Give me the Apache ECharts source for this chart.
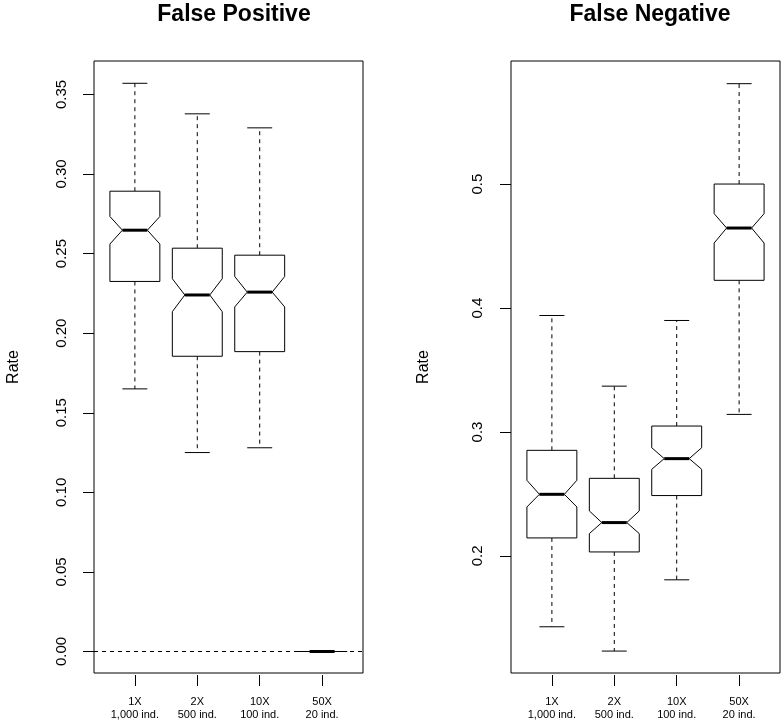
<!DOCTYPE html>
<html><head><meta charset="utf-8">
<script src="https://cdn.jsdelivr.net/npm/echarts@6/dist/echarts.min.js"></script>
<style>html,body{margin:0;padding:0;background:#fff}#c{width:784px;height:723px}</style>
</head><body><div id="c"></div>
<script>
// Categories and box positions
const categories = ['1X\n1,000 ind.', '2X\n500 ind.', '10X\n100 ind.', '50X\n20 ind.'];
const positions = [1, 2, 3, 4];

// False Positive panel
const fpLowerWhisker = [0.165, 0.125, 0.128, 0];
const fpQ1           = [0.2325, 0.1855, 0.1884, 0];
const fpNotchLow     = [0.256, 0.2135, 0.2165, 0];
const fpMedian       = [0.2647, 0.224, 0.2258, 0];
const fpNotchHigh    = [0.2733, 0.2342, 0.2356, 0];
const fpQ3           = [0.2892, 0.2534, 0.249, 0];
const fpUpperWhisker = [0.357, 0.3378, 0.329, 0];
const fpTicks = [0, 0.05, 0.10, 0.15, 0.20, 0.25, 0.30, 0.35];
const fpRefLine = 0;

// False Negative panel
const fnLowerWhisker = [0.1428, 0.1232, 0.1807, 0.3142];
const fnQ1           = [0.2145, 0.2032, 0.2487, 0.4224];
const fnNotchLow     = [0.2395, 0.218, 0.2699, 0.4525];
const fnMedian       = [0.2497, 0.2269, 0.2785, 0.4646];
const fnNotchHigh    = [0.261, 0.2363, 0.2873, 0.4762];
const fnQ3           = [0.2852, 0.2626, 0.3048, 0.5001];
const fnUpperWhisker = [0.394, 0.337, 0.39, 0.5811];
const fnTicks = [0.2, 0.3, 0.4, 0.5];

function rows(lw, q1, nl, md, nh, q3, uw) {
  return positions.map((p, i) => [p, lw[i], q1[i], nl[i], md[i], nh[i], q3[i], uw[i]]);
}

function renderBox(params, api) {
  const x = api.value(0);
  const lw = api.value(1), q1 = api.value(2), nl = api.value(3), md = api.value(4),
        nh = api.value(5), q3 = api.value(6), uw = api.value(7);
  const hw = 0.4, nw = 0.2, sw = 0.2;
  const P = (dx, v) => api.coord([x + dx, v]);
  const poly = [P(-hw,q1),P(-hw,nl),P(-nw,md),P(-hw,nh),P(-hw,q3),P(hw,q3),P(hw,nh),P(nw,md),P(hw,nl),P(hw,q1)];
  const line = (a, b, style) => ({type:'line', shape:{x1:a[0],y1:a[1],x2:b[0],y2:b[1]}, style});
  const solid = {stroke:'#000', lineWidth:1};
  const dashed = {stroke:'#000', lineWidth:1, lineDash:[4,4]};
  return {type:'group', children:[
    line(P(0,q3), P(0,uw), dashed),
    line(P(0,q1), P(0,lw), dashed),
    line(P(-sw,uw), P(sw,uw), solid),
    line(P(-sw,lw), P(sw,lw), solid),
    {type:'polygon', shape:{points:poly}, style:{fill:'#fff', stroke:'#000', lineWidth:1}},
    line(P(-nw,md), P(nw,md), {stroke:'#000', lineWidth:3})
  ]};
}

const FONT = 'Liberation Sans, Arial, Helvetica, sans-serif';

function xAxis(gi) {
  return {
    gridIndex: gi, type: 'value', min: 0.345, max: 4.655, offset: 2, position: 'bottom',
    axisLine: {show:false, onZero:false}, splitLine: {show:false},
    axisTick: {show:true, length:11, customValues: positions, lineStyle:{color:'#000', width:1}},
    axisLabel: {customValues: positions, formatter: v => categories[Math.round(v) - 1],
      fontSize: 11, lineHeight: 13, color:'#000', fontFamily: FONT, margin: 20}
  };
}

function yAxis(gi, min, max, ticks, dec, margin, nameGap) {
  return {
    gridIndex: gi, type: 'value', min, max,
    axisLine: {show:false, onZero:false}, splitLine: {show:false},
    axisTick: {show:true, length:11, customValues: ticks, lineStyle:{color:'#000', width:1}},
    axisLabel: {customValues: ticks, formatter: v => v.toFixed(dec), rotate: 90, margin,
      fontSize: 15, color:'#000', fontFamily: FONT},
    name: 'Rate', nameLocation: 'middle', nameGap,
    nameTextStyle: {fontSize: 16, color:'#000', fontFamily: FONT}
  };
}

const chart = echarts.init(document.getElementById('c'), null, {renderer:'canvas'});
chart.setOption({
  animation: false,
  backgroundColor: '#fff',
  title: [
    {text:'False Positive', left: 229, top: -2, textAlign:'center',
     textStyle:{fontSize:23, fontWeight:'bold', color:'#000', fontFamily: FONT}},
    {text:'False Negative', left: 645, top: -2, textAlign:'center',
     textStyle:{fontSize:23, fontWeight:'bold', color:'#000', fontFamily: FONT}}
  ],
  grid: [
    {left:94, top:61, width:269, height:612, show:true, borderColor:'#000', borderWidth:1, containLabel:false},
    {left:511, top:61, width:269, height:612, show:true, borderColor:'#000', borderWidth:1, containLabel:false}
  ],
  xAxis: [xAxis(0), xAxis(1)],
  yAxis: [
    yAxis(0, -0.0135, 0.371, fpTicks, 2, 25, 72),
    yAxis(1, 0.1055, 0.5994, fnTicks, 1, 26, 79)
  ],
  series: [
    {type:'custom', name:'False Positive', xAxisIndex:0, yAxisIndex:0, clip:false,
     encode:{x:0, y:[1,2,3,4,5,6,7]},
     data: rows(fpLowerWhisker, fpQ1, fpNotchLow, fpMedian, fpNotchHigh, fpQ3, fpUpperWhisker),
     renderItem: renderBox,
     markLine: {silent:true, symbol:['none','none'], label:{show:false},
       lineStyle:{color:'#000', width:1, type:[4,4]}, data:[{yAxis: fpRefLine}]}},
    {type:'custom', name:'False Negative', xAxisIndex:1, yAxisIndex:1, clip:false,
     encode:{x:0, y:[1,2,3,4,5,6,7]},
     data: rows(fnLowerWhisker, fnQ1, fnNotchLow, fnMedian, fnNotchHigh, fnQ3, fnUpperWhisker),
     renderItem: renderBox}
  ]
});
</script>
</body></html>
